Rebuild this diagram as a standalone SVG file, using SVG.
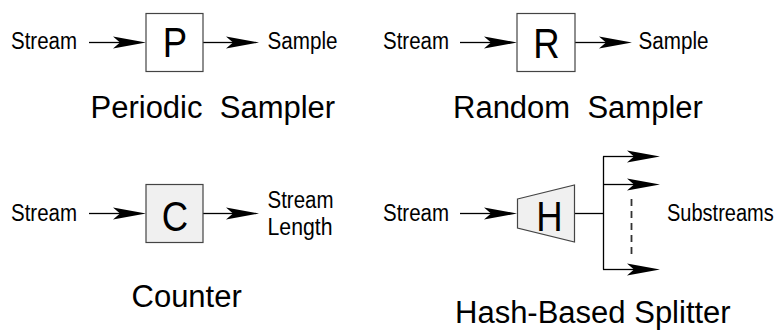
<svg xmlns="http://www.w3.org/2000/svg" width="782" height="332" viewBox="0 0 782 332">
  <style>
    .lbl { font-family: "Liberation Sans", Arial, sans-serif; font-size: 23px; fill: #000; }
    .title { font-family: "Liberation Sans", Arial, sans-serif; font-size: 31px; fill: #000; white-space: pre; }
    .sym { font-family: "Liberation Sans", Arial, sans-serif; font-size: 43px; fill: #000; text-anchor: middle; }
    .box { fill: #fff; stroke: #444; stroke-width: 1.2; }
    .box.shaded { fill: #f0f0f0; }
    .wire { fill: none; stroke: #000; stroke-width: 1.3; }
    .dash { fill: none; stroke: #333; stroke-width: 1.8; stroke-dasharray: 7 5; }
  </style>
  <defs>
    <!-- barbed arrowhead; the line stops at the notch, the tip sits 26px further on -->
    <marker id="head" markerUnits="userSpaceOnUse" viewBox="-33 -6.5 34 13" refX="-26" refY="0" markerWidth="34" markerHeight="13" orient="auto">
      <path d="M0,0 L-33,-6 L-26,0 L-33,6 Z" fill="#000"/>
    </marker>
  </defs>

  <!-- connectors -->
  <g id="connectors">
    <!-- periodic sampler -->
    <path class="wire" d="M89,42.5 H120" marker-end="url(#head)"/>
    <path class="wire" d="M203,42.5 H233" marker-end="url(#head)"/>
    <!-- random sampler -->
    <path class="wire" d="M460,42.5 H491" marker-end="url(#head)"/>
    <path class="wire" d="M575,42.5 H606" marker-end="url(#head)"/>
    <!-- counter -->
    <path class="wire" d="M89,213.5 H120" marker-end="url(#head)"/>
    <path class="wire" d="M203,213.5 H233" marker-end="url(#head)"/>
    <!-- hash-based splitter -->
    <path class="wire" d="M460,213.5 H491" marker-end="url(#head)"/>
    <path class="wire" d="M575,213.5 H603.5"/>
    <path class="wire" d="M603.5,156.5 V269.5"/>
    <path class="wire" d="M603,156.5 H634" marker-end="url(#head)"/>
    <path class="wire" d="M603,184.5 H634" marker-end="url(#head)"/>
    <path class="wire" d="M603,269.5 H634" marker-end="url(#head)"/>
    <path class="dash" d="M631.5,199 V257"/>
  </g>

  <!-- periodic sampler -->
  <g id="periodic-sampler">
    <text class="lbl" x="11" y="49" textLength="66" lengthAdjust="spacingAndGlyphs">Stream</text>
    <rect class="box" x="146" y="13.5" width="57" height="58"/>
    <text class="sym" transform="translate(175,56.5) scale(0.85,1)">P</text>
    <text class="lbl" x="267.5" y="49" textLength="70" lengthAdjust="spacingAndGlyphs">Sample</text>
    <text class="title" x="90.5" y="117.5">Periodic  Sampler</text>
  </g>

  <!-- random sampler -->
  <g id="random-sampler">
    <text class="lbl" x="383" y="49" textLength="66" lengthAdjust="spacingAndGlyphs">Stream</text>
    <rect class="box" x="517" y="13.5" width="58" height="58"/>
    <text class="sym" transform="translate(546.5,58) scale(0.85,1)">R</text>
    <text class="lbl" x="638.5" y="49" textLength="70" lengthAdjust="spacingAndGlyphs">Sample</text>
    <text class="title" x="453" y="118">Random  Sampler</text>
  </g>

  <!-- counter -->
  <g id="counter">
    <text class="lbl" x="11" y="221" textLength="66" lengthAdjust="spacingAndGlyphs">Stream</text>
    <rect class="box shaded" x="146" y="184.5" width="57" height="58"/>
    <text class="sym" transform="translate(175,230.5) scale(0.85,1)">C</text>
    <text class="lbl" x="267.5" y="207.5" textLength="66" lengthAdjust="spacingAndGlyphs">Stream</text>
    <text class="lbl" x="267.5" y="234.5" textLength="65" lengthAdjust="spacingAndGlyphs">Length</text>
    <text class="title" x="131.5" y="306.5">Counter</text>
  </g>

  <!-- hash-based splitter -->
  <g id="hash-splitter">
    <text class="lbl" x="383" y="221" textLength="66" lengthAdjust="spacingAndGlyphs">Stream</text>
    <path class="box shaded" d="M517.5,199 L574.5,185 L574.5,242 L517.5,228 Z"/>
    <text class="sym" transform="translate(549.5,231) scale(0.85,1)">H</text>
    <text class="lbl" transform="translate(667,220.5) scale(0.87,1)">Substreams</text>
    <text class="title" x="455" y="323">Hash-Based Splitter</text>
  </g>
</svg>
